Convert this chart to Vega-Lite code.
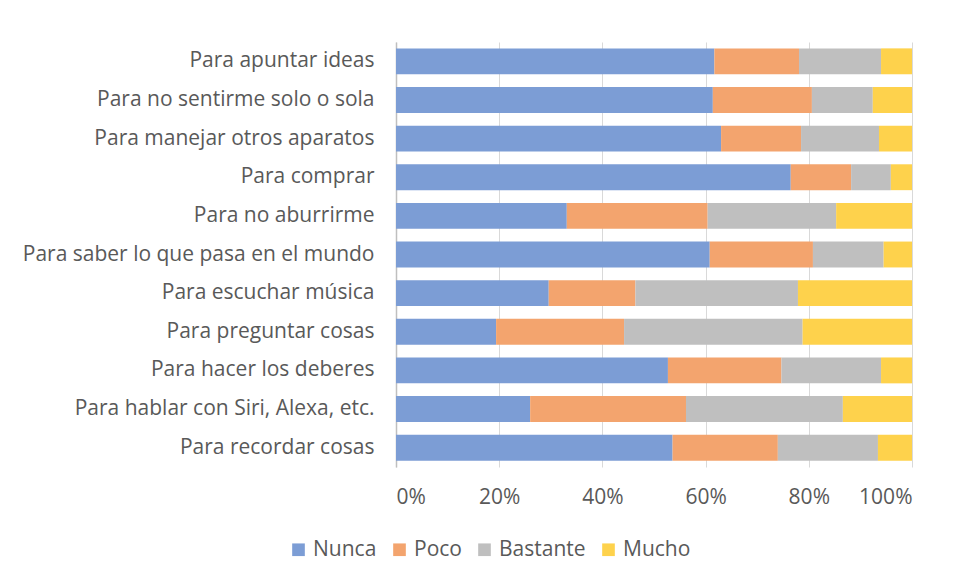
{
  "$schema": "https://vega.github.io/schema/vega-lite/v6.json",
  "width": 516,
  "height": 425,
  "autosize": "none",
  "padding": {"left": 396, "top": 42, "right": 44, "bottom": 114},
  "background": "white",
  "data": {"values": [
    {"item": "Para apuntar ideas", "cat": "Nunca", "o": 1, "v": 61.7},
    {"item": "Para apuntar ideas", "cat": "Poco", "o": 2, "v": 16.4},
    {"item": "Para apuntar ideas", "cat": "Bastante", "o": 3, "v": 15.9},
    {"item": "Para apuntar ideas", "cat": "Mucho", "o": 4, "v": 6.0},
    {"item": "Para no sentirme solo o sola", "cat": "Nunca", "o": 1, "v": 61.4},
    {"item": "Para no sentirme solo o sola", "cat": "Poco", "o": 2, "v": 19.2},
    {"item": "Para no sentirme solo o sola", "cat": "Bastante", "o": 3, "v": 11.8},
    {"item": "Para no sentirme solo o sola", "cat": "Mucho", "o": 4, "v": 7.6},
    {"item": "Para manejar otros aparatos", "cat": "Nunca", "o": 1, "v": 63.0},
    {"item": "Para manejar otros aparatos", "cat": "Poco", "o": 2, "v": 15.5},
    {"item": "Para manejar otros aparatos", "cat": "Bastante", "o": 3, "v": 15.1},
    {"item": "Para manejar otros aparatos", "cat": "Mucho", "o": 4, "v": 6.4},
    {"item": "Para comprar", "cat": "Nunca", "o": 1, "v": 76.5},
    {"item": "Para comprar", "cat": "Poco", "o": 2, "v": 11.7},
    {"item": "Para comprar", "cat": "Bastante", "o": 3, "v": 7.7},
    {"item": "Para comprar", "cat": "Mucho", "o": 4, "v": 4.1},
    {"item": "Para no aburrirme", "cat": "Nunca", "o": 1, "v": 33.1},
    {"item": "Para no aburrirme", "cat": "Poco", "o": 2, "v": 27.3},
    {"item": "Para no aburrirme", "cat": "Bastante", "o": 3, "v": 24.9},
    {"item": "Para no aburrirme", "cat": "Mucho", "o": 4, "v": 14.7},
    {"item": "Para saber lo que pasa en el mundo", "cat": "Nunca", "o": 1, "v": 60.8},
    {"item": "Para saber lo que pasa en el mundo", "cat": "Poco", "o": 2, "v": 20.0},
    {"item": "Para saber lo que pasa en el mundo", "cat": "Bastante", "o": 3, "v": 13.7},
    {"item": "Para saber lo que pasa en el mundo", "cat": "Mucho", "o": 4, "v": 5.5},
    {"item": "Para escuchar música", "cat": "Nunca", "o": 1, "v": 29.6},
    {"item": "Para escuchar música", "cat": "Poco", "o": 2, "v": 16.8},
    {"item": "Para escuchar música", "cat": "Bastante", "o": 3, "v": 31.5},
    {"item": "Para escuchar música", "cat": "Mucho", "o": 4, "v": 22.1},
    {"item": "Para preguntar cosas", "cat": "Nunca", "o": 1, "v": 19.4},
    {"item": "Para preguntar cosas", "cat": "Poco", "o": 2, "v": 24.8},
    {"item": "Para preguntar cosas", "cat": "Bastante", "o": 3, "v": 34.6},
    {"item": "Para preguntar cosas", "cat": "Mucho", "o": 4, "v": 21.2},
    {"item": "Para hacer los deberes", "cat": "Nunca", "o": 1, "v": 52.7},
    {"item": "Para hacer los deberes", "cat": "Poco", "o": 2, "v": 22.0},
    {"item": "Para hacer los deberes", "cat": "Bastante", "o": 3, "v": 19.3},
    {"item": "Para hacer los deberes", "cat": "Mucho", "o": 4, "v": 6.0},
    {"item": "Para hablar con Siri, Alexa, etc.", "cat": "Nunca", "o": 1, "v": 26.0},
    {"item": "Para hablar con Siri, Alexa, etc.", "cat": "Poco", "o": 2, "v": 30.2},
    {"item": "Para hablar con Siri, Alexa, etc.", "cat": "Bastante", "o": 3, "v": 30.4},
    {"item": "Para hablar con Siri, Alexa, etc.", "cat": "Mucho", "o": 4, "v": 13.4},
    {"item": "Para recordar cosas", "cat": "Nunca", "o": 1, "v": 53.6},
    {"item": "Para recordar cosas", "cat": "Poco", "o": 2, "v": 20.4},
    {"item": "Para recordar cosas", "cat": "Bastante", "o": 3, "v": 19.4},
    {"item": "Para recordar cosas", "cat": "Mucho", "o": 4, "v": 6.6}
  ]},
  "mark": {"type": "bar"},
  "encoding": {
    "y": {
      "field": "item", "type": "nominal", "sort": null,
      "scale": {"paddingInner": 0.33, "paddingOuter": 0.165},
      "axis": {
        "title": null, "ticks": false, "domain": true, "domainColor": "#bfbfbf", "domainWidth": 1.5,
        "labelFont": "Open Sans", "labelFontSize": 21, "labelColor": "#595959", "labelPadding": 22, "labelLimit": 400
      }
    },
    "x": {
      "field": "v", "type": "quantitative", "stack": "normalize",
      "scale": {"domain": [0, 1], "nice": false},
      "axis": {
        "title": null, "format": ".0%", "values": [0, 0.2, 0.4, 0.6, 0.8, 1],
        "ticks": false, "domain": false, "grid": true, "gridColor": "#d9d9d9", "gridWidth": 1,
        "labelFont": "Open Sans", "labelFontSize": 21, "labelColor": "#595959", "labelPadding": 19
      }
    },
    "color": {
      "field": "cat", "type": "nominal",
      "scale": {"domain": ["Nunca", "Poco", "Bastante", "Mucho"], "range": ["#7c9dd5", "#f3a46e", "#bfbfbf", "#fed24c"]},
      "legend": {
        "title": null, "orient": "none", "direction": "horizontal", "legendX": -108, "legendY": 497,
        "symbolType": "square", "symbolSize": 160, "symbolStrokeWidth": 0, "symbolOpacity": 1,
        "labelFont": "Open Sans", "labelFontSize": 21, "labelColor": "#595959", "columnPadding": 12, "labelOffset": 4
      }
    },
    "order": {"field": "o", "type": "quantitative"}
  },
  "config": {"view": {"stroke": null}}
}
